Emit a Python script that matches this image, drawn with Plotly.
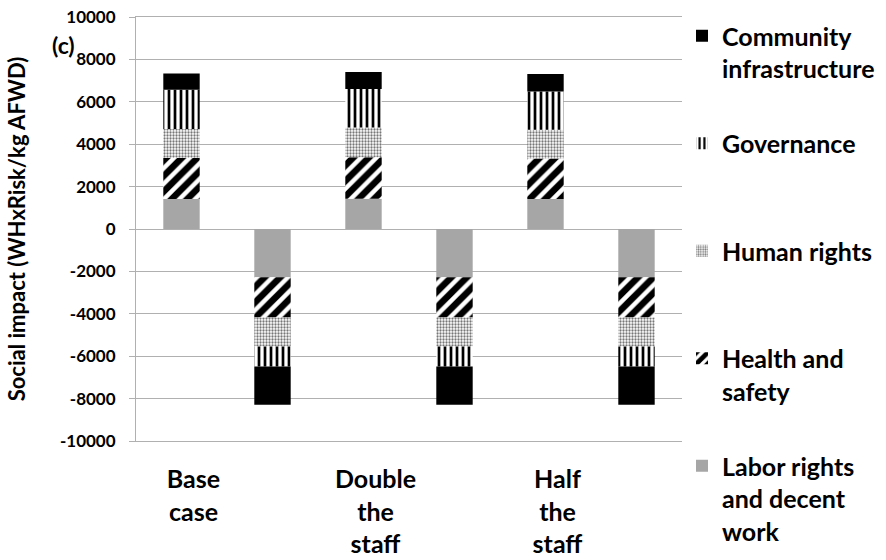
import plotly.graph_objects as go

# Scenarios (each has a positive and a negative stacked column)
scenarios = ["Base<br>case", "Double<br>the<br>staff", "Half<br>the<br>staff"]

# Impact categories, bottom of the stack first
categories = [
    "Labor rights<br>and decent<br>work",
    "Health and<br>safety",
    "Human rights",
    "Governance",
    "Community<br>infrastructure",
]

# Positive contributions (WHxRisk/kg AFWD) per scenario
labor_pos = [1420, 1430, 1420]
health_pos = [1940, 1950, 1900]
human_pos = [1360, 1410, 1360]
gov_pos = [1850, 1810, 1810]
comm_pos = [760, 800, 820]

# Negative contributions (WHxRisk/kg AFWD) per scenario
labor_neg = [-2280, -2280, -2280]
health_neg = [-1890, -1890, -1890]
human_neg = [-1370, -1370, -1370]
gov_neg = [-940, -940, -940]
comm_neg = [-1810, -1810, -1810]

y_ticks = [10000, 8000, 6000, 4000, 2000, 0, -2000, -4000, -6000, -8000, -10000]
y_range = [-10000, 10000]

FONT = "Lato"
GRID = "#B0B0B0"

styles = [
    dict(color="#A6A6A6"),
    dict(color="white", pattern=dict(shape="/", fgcolor="black", bgcolor="white",
                                     fgopacity=1, size=11, solidity=0.6)),
    dict(color="white", pattern=dict(shape=".", fgcolor="#777777", bgcolor="white",
                                     fgopacity=1, size=3, solidity=0.45)),
    dict(color="white", pattern=dict(shape="|", fgcolor="black", bgcolor="white",
                                     fgopacity=1, size=6, solidity=0.45)),
    dict(color="black"),
]

series_pos = [labor_pos, health_pos, human_pos, gov_pos, comm_pos]
series_neg = [labor_neg, health_neg, human_neg, gov_neg, comm_neg]

n_slots = 2 * len(scenarios)
slots = list(range(n_slots))

fig = go.Figure()
n_cat = len(categories)
for i, (label, pos, neg, style) in enumerate(zip(categories, series_pos, series_neg, styles)):
    y = [v for pair in zip(pos, neg) for v in pair]
    # pad every legend entry to three lines so entries are evenly spaced
    pad = 3 - label.count("<br>") - 1
    legend_text = label + "<br> " * pad
    fig.add_bar(
        x=slots,
        y=y,
        name=legend_text,
        legendgroup=label,
        legendrank=n_cat - i,
        marker=dict(**style, line=dict(width=0)),
    )

x_range = [-0.5, n_slots - 0.5]
zero_pos = (0 - y_range[0]) / (y_range[1] - y_range[0])

fig.update_layout(
    width=886,
    height=560,
    margin=dict(l=136, r=196, t=17, b=119),
    paper_bgcolor="white",
    plot_bgcolor="white",
    barmode="relative",
    bargap=0.6,
    font=dict(family=FONT, color="black"),
    xaxis=dict(
        range=x_range,
        automargin=False,
        tickmode="array",
        tickvals=slots[::2],
        ticktext=[f"<b>{s}</b>" for s in scenarios],
        tickfont=dict(family=FONT, size=25, color="black"),
        ticks="",
        showgrid=False,
        zeroline=False,
        showline=True,
        mirror=True,
        linecolor=GRID,
        linewidth=1,
        ticklabelshift=12,
        ticklabelstandoff=16,
    ),
    xaxis2=dict(
        overlaying="x",
        anchor="free",
        position=zero_pos,
        range=x_range,
        automargin=False,
        tickmode="array",
        tickvals=[s + 0.5 for s in slots],
        ticks="outside",
        ticklen=8,
        tickcolor=GRID,
        showticklabels=False,
        showgrid=False,
        zeroline=False,
        showline=True,
        linecolor=GRID,
        linewidth=1,
    ),
    yaxis=dict(
        range=y_range,
        automargin=False,
        tickmode="array",
        tickvals=y_ticks,
        ticktext=[f"<b>{v}</b>" for v in y_ticks],
        tickfont=dict(family=FONT, size=17, color="black"),
        ticks="outside",
        ticklen=6,
        tickcolor=GRID,
        showgrid=True,
        gridcolor=GRID,
        gridwidth=1,
        zeroline=False,
        showline=True,
        linecolor=GRID,
        linewidth=1,
        ticklabelstandoff=10,
        title=dict(
            text="<b>Social impact (WHxRisk/kg AFWD)</b>",
            font=dict(family=FONT, size=22, color="black"),
            standoff=28,
        ),
    ),
    legend=dict(
        xref="container",
        yref="container",
        x=682 / 886,
        y=1 - 13 / 560,
        xanchor="left",
        yanchor="top",
        traceorder="grouped",
        tracegroupgap=7,
        valign="top",
        maxheight=700,
        font=dict(family=FONT, size=25, color="black", weight="bold"),
        bgcolor="rgba(0,0,0,0)",
    ),
    annotations=[
        dict(
            text="<b>(c)</b>",
            xref="paper",
            yref="paper",
            x=(62 - 136) / 554,
            y=(441 - 45) / 424,
            xanchor="center",
            yanchor="middle",
            showarrow=False,
            font=dict(family=FONT, size=23, color="black"),
        )
    ],
    showlegend=True,
)

fig.write_html("out.html")
